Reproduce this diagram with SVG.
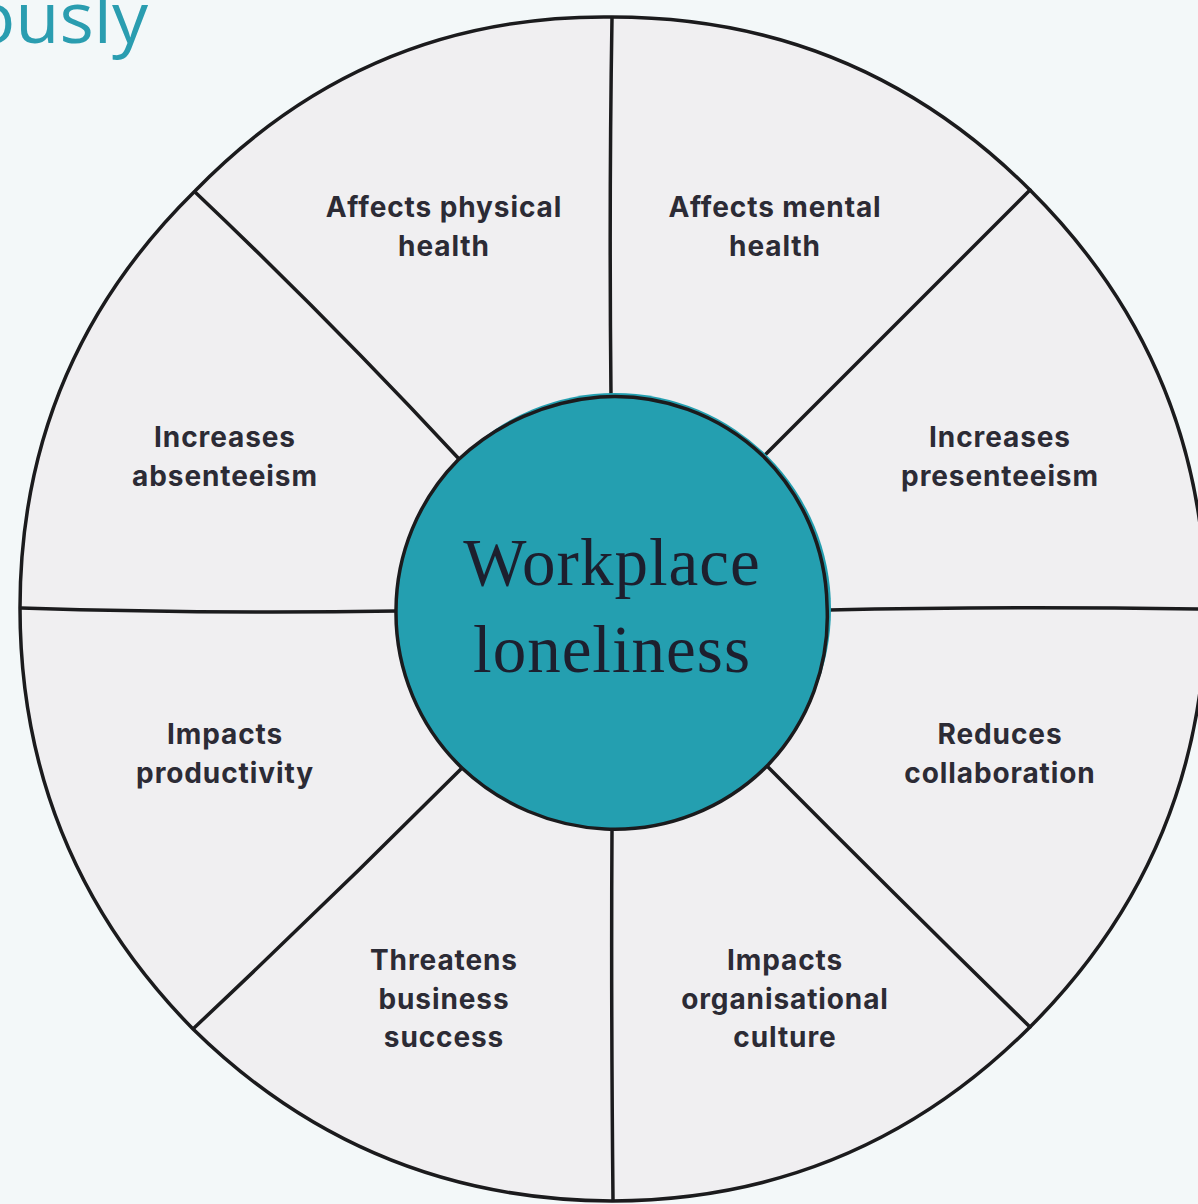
<svg xmlns="http://www.w3.org/2000/svg" width="1198" height="1204" viewBox="0 0 1198 1204">
<style>
.lbl{font-family:Inter,"Open Sans","Liberation Sans",sans-serif;font-weight:700;font-size:28px;fill:#2c2b35;text-anchor:middle;letter-spacing:0.9px}
.line{fill:none;stroke:#1b1b1d;stroke-width:3.5;stroke-linecap:round;stroke-linejoin:round}
.ctr{font-family:"Liberation Serif","DejaVu Serif",serif;font-size:67px;fill:#1d1f2e;text-anchor:middle;letter-spacing:1px}
</style>
<rect width="1198" height="1204" fill="#f3f8f9"/>
<text x="148" y="43" font-family="'Open Sans','Liberation Sans',sans-serif" font-size="72" fill="#2a9db0" text-anchor="end">ously</text>
<g id="wheel">
<path class="line" style="fill:#f0eff1" d="M612 17 Q857 17 1030 190 Q1204 363 1206 608 Q1204 853 1030 1027 Q857 1200 612 1201 Q367 1200 193 1029 Q20 853 20 608 Q20 363 195 191 Q367 14 612 17 Z"/>
</g>
<g id="connectors">
<path class="line" d="M612 18 Q609 200 611 396"/>
<path class="line" d="M612 830 Q611 1000 613 1200"/>
<path class="line" d="M21 608 Q210 614 397 611"/>
<path class="line" d="M829 610 Q1000 606 1198 609"/>
<path class="line" d="M195 192 Q330 320 460 460"/>
<path class="line" d="M1030 190 Q900 320 763 457"/>
<path class="line" d="M194 1028 Q330 900 462 768"/>
<path class="line" d="M1030 1027 Q900 900 767 766"/>
</g>
<g id="center">
<ellipse cx="615" cy="609" rx="216" ry="216" fill="#249fb0"/>
<path class="line" style="fill:#249fb0" d="M600 397 A215 215 0 0 1 763 456 A215 215 0 0 1 827 605 A215 215 0 0 1 768 765 A215 215 0 0 1 605 829 A225 225 0 0 1 462 768 A215 215 0 0 1 396 610 A215 215 0 0 1 458 460 A235 235 0 0 1 600 397 Z"/>
<text class="ctr" x="612" y="585">Workplace</text>
<text class="ctr" x="612" y="672">loneliness</text>
</g>
<g id="n1"><text class="lbl" x="444" y="217">Affects physical</text><text class="lbl" x="444" y="256">health</text></g>
<g id="n2"><text class="lbl" x="775" y="217">Affects mental</text><text class="lbl" x="775" y="256">health</text></g>
<g id="n3"><text class="lbl" x="225" y="447">Increases</text><text class="lbl" x="225" y="486">absenteeism</text></g>
<g id="n4"><text class="lbl" x="1000" y="447">Increases</text><text class="lbl" x="1000" y="486">presenteeism</text></g>
<g id="n5"><text class="lbl" x="225" y="744">Impacts</text><text class="lbl" x="225" y="783">productivity</text></g>
<g id="n6"><text class="lbl" x="1000" y="744">Reduces</text><text class="lbl" x="1000" y="783">collaboration</text></g>
<g id="n7"><text class="lbl" x="444" y="970">Threatens</text><text class="lbl" x="444" y="1009">business</text><text class="lbl" x="444" y="1047">success</text></g>
<g id="n8"><text class="lbl" x="785" y="970">Impacts</text><text class="lbl" x="785" y="1009">organisational</text><text class="lbl" x="785" y="1047">culture</text></g>
</svg>
